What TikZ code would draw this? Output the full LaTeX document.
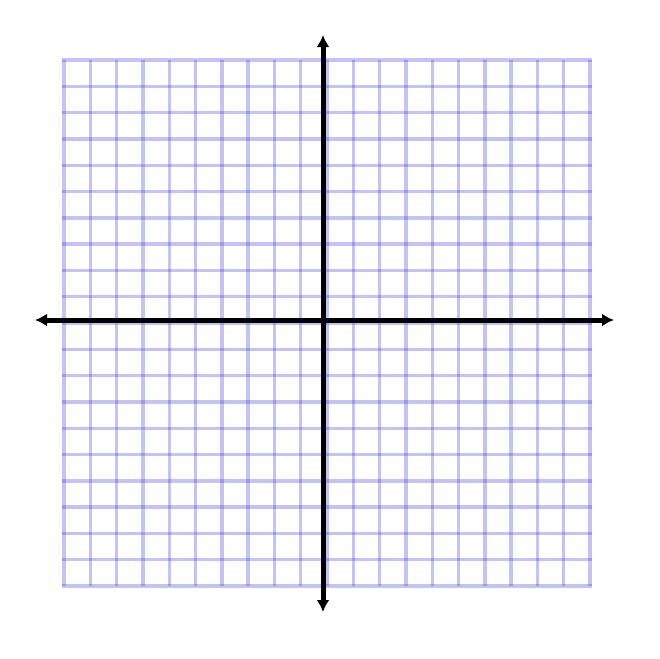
\documentclass[tikz,border=0pt]{standalone}
\usetikzlibrary{arrows.meta}
\begin{document}
\begin{tikzpicture}[x=1pt,y=-1pt,
  gridline/.style={draw={rgb,255:red,70;green,70;blue,220},draw opacity=0.32,line width=3.4pt},
  axisline/.style={draw=black,line width=5pt,-{Latex[length=12pt,width=13pt]}}]
\useasboundingbox (0,0) rectangle (659,659);
\foreach \i in {0,...,20}{
  \draw[gridline] ({64+26.3*\i},60) -- ({64+26.3*\i},586);
  \draw[gridline] (62.3,{60+26.3*\i}) -- (591.7,{60+26.3*\i});
}
\coordinate (o) at (323,320);
\coordinate (xr) at (614,320);
\coordinate (xl) at (35,320);
\coordinate (yt) at (323,35);
\coordinate (yb) at (323,612);
\draw[axisline] (o) -- (xr);
\draw[axisline] (o) -- (xl);
\draw[axisline] (o) -- (yt);
\draw[axisline] (o) -- (yb);
\end{tikzpicture}
\end{document}
